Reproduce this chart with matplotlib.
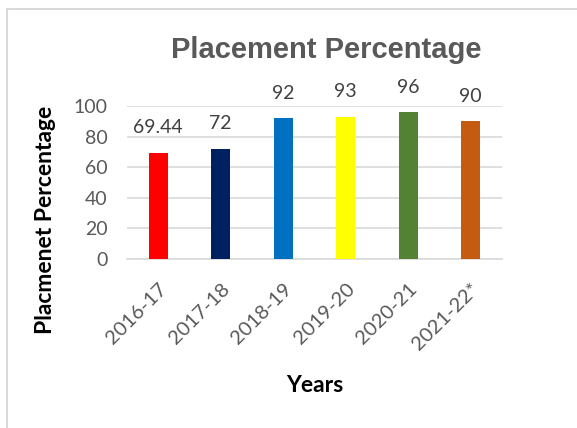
import matplotlib.pyplot as plt
from matplotlib.patches import Rectangle

years = ['2016-17', '2017-18', '2018-19', '2019-20', '2020-21', '2021-22*']
placement = [69.44, 72, 92, 93, 96, 90]
value_labels = ['69.44', '72', '92', '93', '96', '90']
bar_colors = ['#FF0000', '#002060', '#0070C0', '#FFFF00', '#548235', '#C55A11']
y_ticks = [0, 20, 40, 60, 80, 100]

plt.rcParams['font.family'] = ['Lato', 'DejaVu Sans']

fig = plt.figure(figsize=(5.77, 4.28), dpi=100)
ax = fig.add_axes([0.220, 0.395, 0.650, 0.357])

# light frame around the chart area
fig.patches.append(Rectangle((7 / 577, -0.1), 1.0, 1.0 - 9 / 428 + 0.1, transform=fig.transFigure,
                             fill=False, edgecolor='#d9d9d9', linewidth=1.5))

x = range(len(years))
ax.bar(x, placement, width=0.31, color=bar_colors, zorder=3)

for i, v in enumerate(placement):
    ax.annotate(value_labels[i], (i, v), xytext=(0, 12), textcoords='offset points',
                ha='center', va='bottom', fontsize=14, color='#404040')

ax.set_xlim(-0.5, len(years) - 0.5)
ax.set_ylim(0, 100)
ax.set_yticks(y_ticks)
ax.yaxis.grid(True, color='#d9d9d9', linewidth=1.2, zorder=0)
ax.tick_params(axis='y', length=0, labelsize=14, labelcolor='#595959', pad=14)
ax.tick_params(axis='x', length=0, labelsize=14.5, labelcolor='#595959', pad=15)
ax.set_xticks(list(x))
ax.set_xticklabels(years, rotation=45, ha='right', rotation_mode='anchor')
for s in ['top', 'right', 'left']:
    ax.spines[s].set_visible(False)
ax.spines['bottom'].set_color('#d9d9d9')
ax.spines['bottom'].set_linewidth(1.2)

fig.text(326 / 577, 1 - 50 / 428, 'Placement Percentage', ha='center', va='center',
         fontsize=21, fontweight='bold', color='#595959',
         family=['Liberation Sans Narrow', 'Liberation Sans', 'DejaVu Sans'])
fig.text(46 / 577, 1 - 220 / 428, 'Placmenet Percentage', rotation=90, ha='center', va='center',
         fontsize=16.5, fontweight='bold', color='black')
fig.text(315 / 577, 1 - 385 / 428, 'Years', ha='center', va='center',
         fontsize=16.5, fontweight='bold', color='black')

fig.savefig('out.png', dpi=100)
